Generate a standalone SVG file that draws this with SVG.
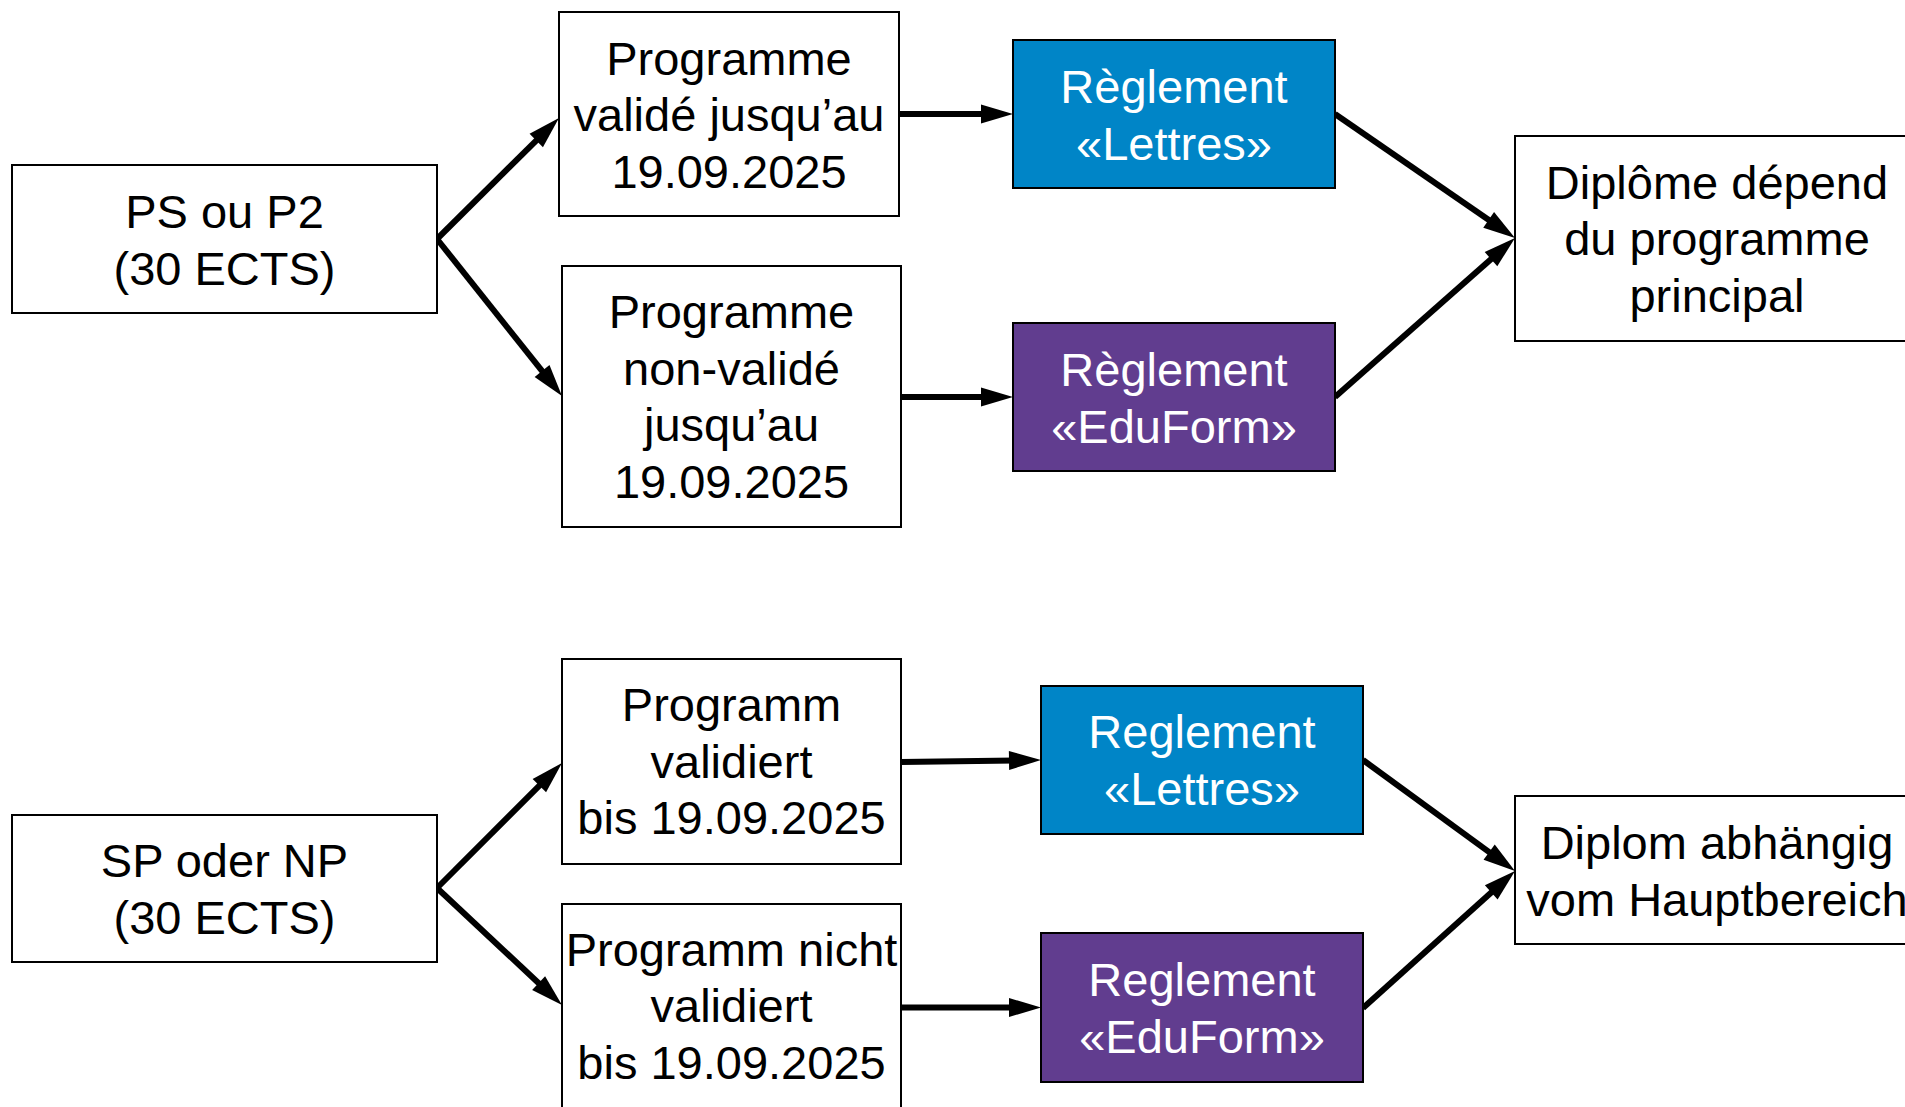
<svg xmlns="http://www.w3.org/2000/svg" width="1905" height="1107" viewBox="0 0 1905 1107">
<defs>
<style>
.box{fill:#ffffff;stroke:#000000;stroke-width:2}
.blue{fill:#0085C7;stroke:#000000;stroke-width:2}
.purple{fill:#613D8F;stroke:#000000;stroke-width:2}
.t{font-family:"Liberation Sans",Arial,sans-serif;font-size:47px;text-anchor:middle;fill:#000000}
.w{fill:#ffffff}
.c{fill:none;stroke:#000000;stroke-width:6}
</style>
<marker id="ah" markerUnits="userSpaceOnUse" markerWidth="32" markerHeight="19" refX="6" refY="9.5" orient="auto" overflow="visible">
<path d="M0,0 L32,9.5 L0,19 Z" fill="#000000"/>
</marker>
</defs>
<rect width="1905" height="1107" fill="#ffffff"/>
<g id="connectors">
<path class="c" d="M437,239 L540.5,136.3" marker-end="url(#ah)"/>
<path class="c" d="M437,239 L545.8,375.7" marker-end="url(#ah)"/>
<path class="c" d="M899,114 L987,114" marker-end="url(#ah)"/>
<path class="c" d="M901,397 L987,397" marker-end="url(#ah)"/>
<path class="c" d="M1335,114 L1493.6,223.3" marker-end="url(#ah)"/>
<path class="c" d="M1335,397 L1495.5,255.2" marker-end="url(#ah)"/>
<path class="c" d="M437,888 L543.6,781.4" marker-end="url(#ah)"/>
<path class="c" d="M437,888 L543,987.2" marker-end="url(#ah)"/>
<path class="c" d="M901,762 L1015,760.4" marker-end="url(#ah)"/>
<path class="c" d="M901,1007.5 L1015,1007.5" marker-end="url(#ah)"/>
<path class="c" d="M1363,760 L1494,855.7" marker-end="url(#ah)"/>
<path class="c" d="M1363,1008 L1495.7,888.4" marker-end="url(#ah)"/>
</g>
<g id="ps">
<rect class="box" x="12" y="165" width="425" height="148"/>
<text class="t" x="224.5" y="228">PS ou P2</text>
<text class="t" x="224.5" y="285">(30 ECTS)</text>
</g>
<g id="prog-valide">
<rect class="box" x="559" y="12" width="340" height="204"/>
<text class="t" x="729" y="75">Programme</text>
<text class="t" x="729" y="131">validé jusqu’au</text>
<text class="t" x="729" y="188">19.09.2025</text>
</g>
<g id="prog-non-valide">
<rect class="box" x="562" y="266" width="339" height="261"/>
<text class="t" x="731.5" y="328">Programme</text>
<text class="t" x="731.5" y="385">non-validé</text>
<text class="t" x="731.5" y="441">jusqu’au</text>
<text class="t" x="731.5" y="498">19.09.2025</text>
</g>
<g id="reg-lettres-fr">
<rect class="blue" x="1013" y="40" width="322" height="148"/>
<text class="t w" x="1174" y="103">Règlement</text>
<text class="t w" x="1174" y="160">«Lettres»</text>
</g>
<g id="reg-eduform-fr">
<rect class="purple" x="1013" y="323" width="322" height="148"/>
<text class="t w" x="1174" y="386">Règlement</text>
<text class="t w" x="1174" y="443">«EduForm»</text>
</g>
<g id="diplome">
<rect class="box" x="1515" y="136" width="404" height="205"/>
<text class="t" x="1717" y="199">Diplôme dépend</text>
<text class="t" x="1717" y="255">du programme</text>
<text class="t" x="1717" y="312">principal</text>
</g>
<g id="sp">
<rect class="box" x="12" y="815" width="425" height="147"/>
<text class="t" x="224.5" y="877">SP oder NP</text>
<text class="t" x="224.5" y="934">(30 ECTS)</text>
</g>
<g id="prog-validiert">
<rect class="box" x="562" y="659" width="339" height="205"/>
<text class="t" x="731.5" y="721">Programm</text>
<text class="t" x="731.5" y="778">validiert</text>
<text class="t" x="731.5" y="834">bis 19.09.2025</text>
</g>
<g id="prog-nicht-validiert">
<rect class="box" x="562" y="904" width="339" height="205"/>
<text class="t" x="731.5" y="966">Programm nicht</text>
<text class="t" x="731.5" y="1022">validiert</text>
<text class="t" x="731.5" y="1079">bis 19.09.2025</text>
</g>
<g id="reg-lettres-de">
<rect class="blue" x="1041" y="686" width="322" height="148"/>
<text class="t w" x="1202" y="748">Reglement</text>
<text class="t w" x="1202" y="805">«Lettres»</text>
</g>
<g id="reg-eduform-de">
<rect class="purple" x="1041" y="933" width="322" height="149"/>
<text class="t w" x="1202" y="996">Reglement</text>
<text class="t w" x="1202" y="1053">«EduForm»</text>
</g>
<g id="diplom">
<rect class="box" x="1515" y="796" width="404" height="148"/>
<text class="t" x="1717" y="859">Diplom abhängig</text>
<text class="t" x="1717" y="916">vom Hauptbereich</text>
</g>
</svg>
